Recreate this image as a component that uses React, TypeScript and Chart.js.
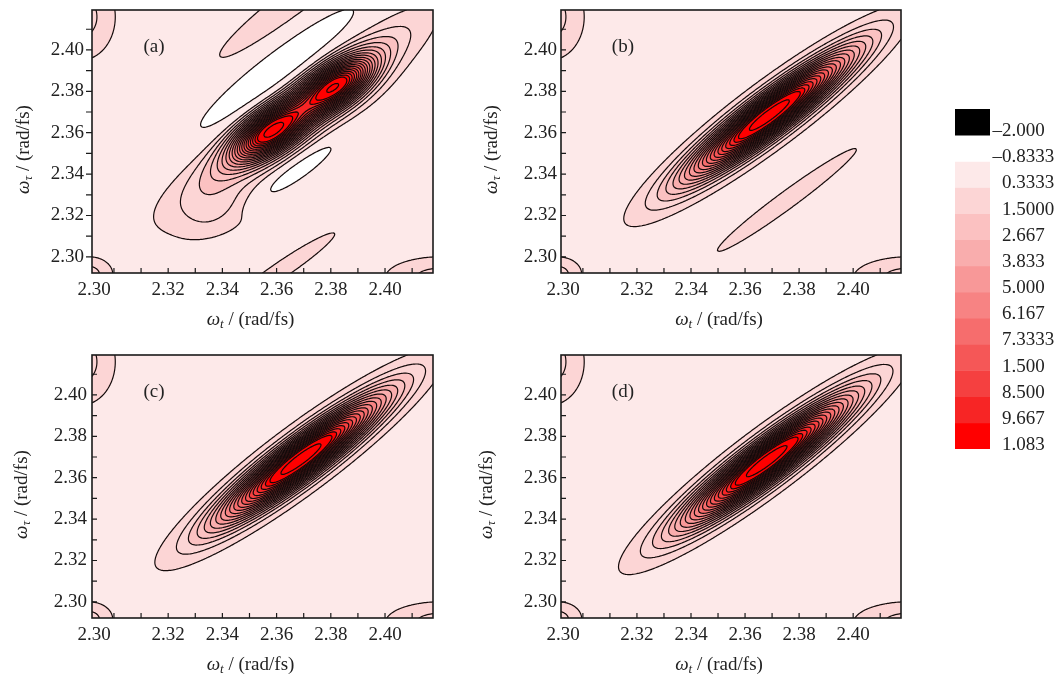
import React, { useEffect, useRef } from "react";
import { Chart, registerables } from "chart.js";
Chart.register(...registerables);

const FONT = '"Liberation Serif", "Times New Roman", serif';

// ---- axis ranges and ticks ----
const X_MIN = 2.2919;
const X_MAX = 2.4177;
const Y_MIN = 2.2922;
const Y_MAX = 2.4193;
const X_TICK_VALUES = [2.3, 2.31, 2.32, 2.33, 2.34, 2.35, 2.36, 2.37, 2.38, 2.39, 2.4, 2.41];
const X_TICK_LABELS = ["", "", "2.32", "", "2.34", "", "2.36", "", "2.38", "", "2.40", ""];
const X_EDGE_LABEL = "2.30";
const Y_TICK_VALUES = [2.3, 2.31, 2.32, 2.33, 2.34, 2.35, 2.36, 2.37, 2.38, 2.39, 2.4, 2.41];
const Y_TICK_LABELS = ["2.30", "", "2.32", "", "2.34", "", "2.36", "", "2.38", "", "2.40", ""];

// ---- contour levels / colours ----
const FILL_LEVELS = [-2, -0.8333, 0.3333, 1.5, 2.667, 3.833, 5.0, 6.167, 7.3333, 8.5, 9.667, 10.83, 12.0];
const BAND_COLORS = ["#fde9e9", "#fcd5d5", "#fbc1c1", "#f9adad", "#f89898", "#f78383", "#f66d6d", "#f55757", "#f54040", "#f72525", "#ff0000"];
const LINE_LEVELS = [-0.8333, 0.3333, 0.9167, 1.5, 2.0833, 2.667, 3.25, 3.833, 4.4167, 5.0, 5.583, 6.167, 6.75, 7.3333, 7.9167, 8.5, 9.083, 9.667, 10.25, 10.83, 11.42, 12.58];
const COLORBAR_LABELS = ["–2.000", "–0.8333", "0.3333", "1.5000", "2.667", "3.833", "5.000", "6.167", "7.3333", "1.500", "8.500", "9.667", "1.083"];
const COLORBAR_COLORS = ["#000000", "#ffffff", ...BAND_COLORS];

// ---- peak components: [centre x, centre y, amplitude, width along axis, width across axis, axis angle deg] ----
const CORNER_PEAKS = [
  [2.288, 2.416, 1.2, 0.0078, 0.013, 0],
  [2.2905, 2.2915, 1.2, 0.0056, 0.0053, 0],
  [2.421, 2.29, 1.2, 0.013, 0.0063, 0],
];
const PEAKS_A = [
  [2.3576, 2.3603, 8.2, 0.011, 0.0056, 45],
  [2.3823, 2.3828, 8.2, 0.011, 0.0056, 45],
  [2.368, 2.37, 5.5, 0.03, 0.0066, 45],
  [2.3601, 2.3904, -1.7, 0.034, 0.006, 45.8],
  [2.367, 2.424, 0.9, 0.028, 0.0045, 45],
  [2.3678, 2.3415, -1.5, 0.016, 0.0032, 43.7],
  [2.338, 2.322, 1.0, 0.012, 0.0075, 35],
  [2.362, 2.294, 0.85, 0.019, 0.0026, 42],
  ...CORNER_PEAKS,
];
const PEAKS_B = [
  [2.369, 2.3685, 13.5, 0.0275, 0.0053, 45],
  [2.3755, 2.3275, 0.85, 0.026, 0.0028, 44],
  ...CORNER_PEAKS,
];
const PEAKS_C = [
  [2.369, 2.369, 13.5, 0.0275, 0.0054, 45],
  ...CORNER_PEAKS,
];
const PEAKS_D = [
  [2.368, 2.368, 13.5, 0.028, 0.0053, 45],
  ...CORNER_PEAKS,
];
const PANEL_LABELS = ["(a)", "(b)", "(c)", "(d)"];
const PANEL_LABEL_POS = [2.3148, 2.4013];

function hexToRgb(h: string) {
  const n = parseInt(h.slice(1), 16);
  return [(n >> 16) & 255, (n >> 8) & 255, n & 255];
}
const BAND_RGB = BAND_COLORS.map(hexToRgb);

function fieldAt(peaks: number[][], x: number, y: number) {
  let s = 0;
  for (const p of peaks) {
    const a = (p[5] * Math.PI) / 180;
    const dx = x - p[0];
    const dy = y - p[1];
    const ca = Math.cos(a), sa = Math.sin(a);
    const du = (dx * ca + dy * sa) / p[3];
    const dv = (-dx * sa + dy * ca) / p[4];
    s += p[2] * Math.exp(-0.5 * (du * du + dv * dv));
  }
  return s;
}

function colorFor(v: number) {
  if (v < FILL_LEVELS[0]) return [0, 0, 0];
  for (let k = 0; k < FILL_LEVELS.length - 1; k++) {
    if (v < FILL_LEVELS[k + 1]) return k === 0 ? [255, 255, 255] : BAND_RGB[k - 1];
  }
  return BAND_RGB[BAND_RGB.length - 1];
}

function addContour(ctx: CanvasRenderingContext2D, vals: Float64Array, nx: number, ny: number, gpx: number[], gpy: number[], level: number) {
  for (let j = 0; j < ny - 1; j++) {
    const y0 = gpy[j], y1 = gpy[j + 1];
    for (let i = 0; i < nx - 1; i++) {
      const a = vals[j * nx + i], b = vals[j * nx + i + 1], c = vals[(j + 1) * nx + i + 1], d = vals[(j + 1) * nx + i];
      let code = 0;
      if (a > level) code |= 1;
      if (b > level) code |= 2;
      if (c > level) code |= 4;
      if (d > level) code |= 8;
      if (code === 0 || code === 15) continue;
      const x0 = gpx[i], x1 = gpx[i + 1];
      const e0 = (): number[] => [x0 + ((x1 - x0) * (level - a)) / (b - a), y0];
      const e1 = (): number[] => [x1, y0 + ((y1 - y0) * (level - b)) / (c - b)];
      const e2 = (): number[] => [x0 + ((x1 - x0) * (level - d)) / (c - d), y1];
      const e3 = (): number[] => [x0, y0 + ((y1 - y0) * (level - a)) / (d - a)];
      const seg = (p: number[], q: number[]) => {
        ctx.moveTo(p[0], p[1]);
        ctx.lineTo(q[0], q[1]);
      };
      const center = (a + b + c + d) / 4 > level;
      switch (code) {
        case 1: case 14: seg(e3(), e0()); break;
        case 2: case 13: seg(e0(), e1()); break;
        case 3: case 12: seg(e3(), e1()); break;
        case 4: case 11: seg(e1(), e2()); break;
        case 6: case 9: seg(e0(), e2()); break;
        case 7: case 8: seg(e3(), e2()); break;
        case 5:
          if (center) { seg(e0(), e1()); seg(e2(), e3()); } else { seg(e3(), e0()); seg(e1(), e2()); }
          break;
        case 10:
          if (center) { seg(e3(), e0()); seg(e1(), e2()); } else { seg(e0(), e1()); seg(e2(), e3()); }
          break;
      }
    }
  }
}

function drawRichTitle(ctx: CanvasRenderingContext2D, cx: number, cy: number, sub: string, rotate: boolean) {
  const parts = [
    { t: "ω", font: `italic 19px ${FONT}`, dy: 0 },
    { t: sub, font: `italic 13px ${FONT}`, dy: 5 },
    { t: " / (rad/fs)", font: `19px ${FONT}`, dy: 0 },
  ];
  ctx.save();
  ctx.translate(cx, cy);
  if (rotate) ctx.rotate(-Math.PI / 2);
  let total = 0;
  const widths = parts.map((p) => {
    ctx.font = p.font;
    const w = ctx.measureText(p.t).width;
    total += w;
    return w;
  });
  let x = -total / 2;
  ctx.fillStyle = "#222";
  ctx.textBaseline = "middle";
  ctx.textAlign = "left";
  parts.forEach((p, i) => {
    ctx.font = p.font;
    ctx.fillText(p.t, x, p.dy);
    x += widths[i];
  });
  ctx.restore();
}

const contourPlugin = {
  id: "contour",
  beforeDatasetsDraw(chart: any, _args: any, opts: any) {
    const { ctx, chartArea: ca } = chart;
    const xs = chart.scales.x, ys = chart.scales.y;
    const peaks: number[][] = opts.peaks;
    const left = Math.round(ca.left), top = Math.round(ca.top);
    const w = Math.round(ca.right) - left, h = Math.round(ca.bottom) - top;
    const img = ctx.createImageData(w, h);
    const colX = new Float64Array(w);
    for (let i = 0; i < w; i++) colX[i] = xs.getValueForPixel(left + i + 0.5);
    for (let j = 0; j < h; j++) {
      const yv = ys.getValueForPixel(top + j + 0.5);
      for (let i = 0; i < w; i++) {
        const c = colorFor(fieldAt(peaks, colX[i], yv));
        const o = (j * w + i) * 4;
        img.data[o] = c[0];
        img.data[o + 1] = c[1];
        img.data[o + 2] = c[2];
        img.data[o + 3] = 255;
      }
    }
    ctx.putImageData(img, left, top);

    const NX = 240, NY = 200;
    const gpx: number[] = [], gpy: number[] = [];
    const gx: number[] = [], gy: number[] = [];
    for (let i = 0; i < NX; i++) {
      gx[i] = X_MIN + ((X_MAX - X_MIN) * i) / (NX - 1);
      gpx[i] = xs.getPixelForValue(gx[i]);
    }
    for (let j = 0; j < NY; j++) {
      gy[j] = Y_MIN + ((Y_MAX - Y_MIN) * j) / (NY - 1);
      gpy[j] = ys.getPixelForValue(gy[j]);
    }
    const vals = new Float64Array(NX * NY);
    for (let j = 0; j < NY; j++) for (let i = 0; i < NX; i++) vals[j * NX + i] = fieldAt(peaks, gx[i], gy[j]);
    ctx.save();
    ctx.beginPath();
    ctx.rect(ca.left, ca.top, ca.right - ca.left, ca.bottom - ca.top);
    ctx.clip();
    ctx.strokeStyle = "#140a0a";
    ctx.lineWidth = 1.2;
    ctx.lineCap = "round";
    ctx.lineJoin = "round";
    for (const lv of LINE_LEVELS) {
      ctx.beginPath();
      addContour(ctx, vals, NX, NY, gpx, gpy, lv);
      ctx.stroke();
    }
    ctx.restore();
  },
  afterDraw(chart: any, _args: any, opts: any) {
    const { ctx, chartArea: ca } = chart;
    const xs = chart.scales.x, ys = chart.scales.y;
    ctx.save();
    ctx.strokeStyle = "#1a1a1a";
    ctx.lineWidth = 1.6;
    ctx.strokeRect(ca.left, ca.top, ca.right - ca.left, ca.bottom - ca.top);
    ctx.lineWidth = 1.2;
    ctx.beginPath();
    for (const v of X_TICK_VALUES) {
      const px = xs.getPixelForValue(v);
      ctx.moveTo(px, ca.bottom);
      ctx.lineTo(px, ca.bottom - 5);
    }
    for (const v of Y_TICK_VALUES) {
      const py = ys.getPixelForValue(v);
      if (opts.outTicks) {
        ctx.moveTo(ca.left - 6, py);
        ctx.lineTo(ca.left, py);
      } else {
        ctx.moveTo(ca.left, py);
        ctx.lineTo(ca.left + 5, py);
      }
    }
    ctx.stroke();
    ctx.fillStyle = "#222";
    ctx.font = `19px ${FONT}`;
    ctx.textAlign = "center";
    ctx.textBaseline = "middle";
    ctx.fillText(X_EDGE_LABEL, xs.getPixelForValue(X_MIN + 0.0008), ca.bottom + 17);
    ctx.fillText(opts.label, xs.getPixelForValue(PANEL_LABEL_POS[0]), ys.getPixelForValue(PANEL_LABEL_POS[1]));
    ctx.restore();
    drawRichTitle(ctx, (ca.left + ca.right) / 2 - 12, ca.bottom + 47, "t", false);
    drawRichTitle(ctx, opts.yTitleX, (ca.top + ca.bottom) / 2 + 8, "τ", true);
  },
};

const colorbarPlugin = {
  id: "cblabels",
  afterDraw(chart: any) {
    const { ctx } = chart;
    const ys = chart.scales.y;
    const x0 = 62;
    ctx.save();
    ctx.fillStyle = "#222";
    ctx.font = `19px ${FONT}`;
    ctx.textBaseline = "middle";
    COLORBAR_LABELS.forEach((lab, i) => {
      const y = ys.getPixelForValue(i + 1) - 4;
      if (lab.startsWith("–")) {
        ctx.textAlign = "right";
        ctx.fillText("–", x0, y);
        ctx.textAlign = "left";
        ctx.fillText(lab.slice(1), x0, y);
      } else {
        ctx.textAlign = "left";
        ctx.fillText(lab, x0, y);
      }
    });
    ctx.restore();
  },
};

type PanelProps = {
  left: number; top: number; width: number; height: number; padTop: number; padRight: number;
  yw: number; xh: number; peaks: number[][]; label: string; yPad: number; outTicks: boolean; yTitleX: number;
};

function Panel(p: PanelProps) {
  const ref = useRef<HTMLCanvasElement>(null);
  useEffect(() => {
    const chart = new Chart(ref.current as HTMLCanvasElement, {
      type: "scatter",
      data: { datasets: [{ data: [] }] },
      options: {
        animation: false,
        responsive: false,
        devicePixelRatio: 1,
        layout: { padding: { left: 0, top: p.padTop, right: p.padRight, bottom: 0 } },
        plugins: {
          legend: { display: false },
          tooltip: { enabled: false },
          contour: { peaks: p.peaks, label: p.label, outTicks: p.outTicks, yTitleX: p.yTitleX },
        } as any,
        scales: {
          x: {
            type: "linear",
            min: X_MIN,
            max: X_MAX,
            grid: { display: false, drawTicks: false },
            border: { display: false },
            afterBuildTicks: (s: any) => { s.ticks = X_TICK_VALUES.map((v) => ({ value: v })); },
            afterFit: (s: any) => { s.height = p.xh; s.paddingLeft = 0; s.paddingRight = 0; },
            ticks: {
              autoSkip: false, maxRotation: 0, padding: 6, color: "#222",
              font: { family: FONT, size: 19 },
              callback: (_v: any, i: number) => X_TICK_LABELS[i],
            },
          },
          y: {
            type: "linear",
            min: Y_MIN,
            max: Y_MAX,
            grid: { display: false, drawTicks: false },
            border: { display: false },
            afterBuildTicks: (s: any) => { s.ticks = Y_TICK_VALUES.map((v) => ({ value: v })); },
            afterFit: (s: any) => { s.width = p.yw; s.paddingTop = 0; s.paddingBottom = 0; },
            ticks: {
              autoSkip: false, padding: p.yPad, color: "#222",
              font: { family: FONT, size: 19 },
              callback: (_v: any, i: number) => Y_TICK_LABELS[i],
            },
          },
        },
      } as any,
      plugins: [contourPlugin as any],
    });
    return () => chart.destroy();
  }, []);
  return (
    <canvas ref={ref} width={p.width} height={p.height}
      style={{ position: "absolute", left: p.left, top: p.top, width: p.width, height: p.height }} />
  );
}

function ColorBar() {
  const ref = useRef<HTMLCanvasElement>(null);
  useEffect(() => {
    const chart = new Chart(ref.current as HTMLCanvasElement, {
      type: "bar",
      data: {
        labels: [""],
        datasets: COLORBAR_COLORS.map((c) => ({ data: [1], backgroundColor: c, borderWidth: 0, barPercentage: 1, categoryPercentage: 1 })),
      },
      options: {
        animation: false,
        responsive: false,
        devicePixelRatio: 1,
        layout: { padding: { left: 15, top: 9, right: 74, bottom: 11 } },
        plugins: { legend: { display: false }, tooltip: { enabled: false } },
        scales: {
          x: { display: false, stacked: true },
          y: { display: false, stacked: true, reverse: true, min: 0, max: COLORBAR_COLORS.length },
        },
      } as any,
      plugins: [colorbarPlugin as any],
    });
    return () => chart.destroy();
  }, []);
  return <canvas ref={ref} width={124} height={360} style={{ position: "absolute", left: 940, top: 100, width: 124, height: 360 }} />;
}

const PANELS: PanelProps[] = [
  { left: 0, top: 0, width: 450, height: 340, padTop: 10, padRight: 17, yw: 92, xh: 67, peaks: PEAKS_A, label: PANEL_LABELS[0], yPad: 8, outTicks: true, yTitleX: 24 },
  { left: 450, top: 0, width: 470, height: 340, padTop: 10, padRight: 19, yw: 111, xh: 67, peaks: PEAKS_B, label: PANEL_LABELS[1], yPad: 4, outTicks: false, yTitleX: 42 },
  { left: 0, top: 340, width: 450, height: 337, padTop: 15, padRight: 17, yw: 92, xh: 59, peaks: PEAKS_C, label: PANEL_LABELS[2], yPad: 5, outTicks: false, yTitleX: 22 },
  { left: 450, top: 340, width: 470, height: 337, padTop: 15, padRight: 19, yw: 111, xh: 59, peaks: PEAKS_D, label: PANEL_LABELS[3], yPad: 4, outTicks: false, yTitleX: 37 },
];

export default function App() {
  return (
    <div style={{ position: "absolute", left: 0, top: 0, width: 1064, height: 677, background: "#fff" }}>
      {PANELS.map((p, i) => <Panel key={i} {...p} />)}
      <ColorBar />
    </div>
  );
}
